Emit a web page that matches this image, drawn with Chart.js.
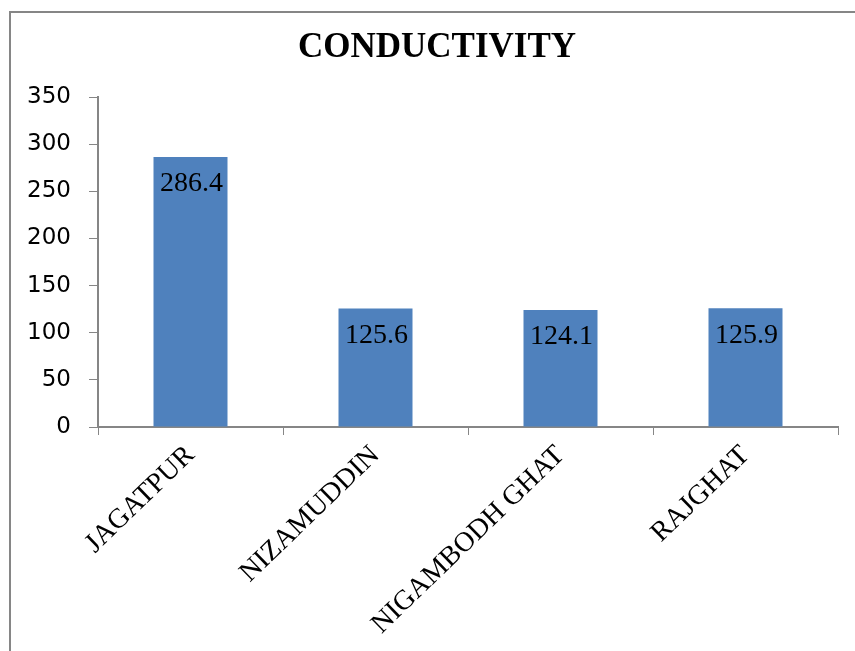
<!DOCTYPE html>
<html>
<head>
<meta charset="utf-8">
<script src="https://cdn.jsdelivr.net/npm/chart.js@4.4.1/dist/chart.umd.min.js"></script>
<style>
  html, body { margin: 0; padding: 0; background: #fff; }
  #wrap { position: relative; width: 855px; height: 651px; }
</style>
</head>
<body>
<div id="wrap"><canvas id="chart" width="855" height="651"></canvas></div>
<script>
    'use strict';

    const chartTitle = 'CONDUCTIVITY';
    const stations = ['JAGATPUR', 'NIZAMUDDIN', 'NIGAMBODH GHAT', 'RAJGHAT'];
    const conductivity = [286.4, 125.6, 124.1, 125.9];
    const yTicks = [0, 50, 100, 150, 200, 250, 300, 350];

    const BAR  = '#4F81BD';
    const AXIS = '#868686';

    /* ── frame, title + value labels ──────────────────────────────────── */

    const framePlugin = {
        id: 'frame',
        beforeDraw: function (chart) {
            const c = chart.ctx;
            c.save();
            c.fillStyle = '#fff';
            c.fillRect(0, 0, chart.width, chart.height);
            c.strokeStyle = AXIS;
            c.lineWidth = 2;
            c.strokeRect(10, 12, 1000, 1000);
            c.font = 'bold 35px "Liberation Serif", serif';
            c.fillStyle = '#000';
            c.textAlign = 'center';
            c.textBaseline = 'middle';
            c.fillText(chartTitle, 437, 48);
            c.restore();
        },
    };

    const valueLabels = {
        id: 'valueLabels',
        afterDatasetsDraw: function (chart) {
            const c = chart.ctx;
            const meta = chart.getDatasetMeta(0);
            c.save();
            c.font = '28px "Liberation Serif", serif';
            c.fillStyle = '#000';
            c.textAlign = 'center';
            c.textBaseline = 'middle';
            meta.data.forEach(function (bar, i) {
                c.fillText(String(conductivity[i]), bar.x + 1, bar.y + 27);
            });
            c.restore();
        },
    };

    new Chart(document.getElementById('chart'), {
        type: 'bar',
        data: {
            labels: stations,
            datasets: [{
                label: chartTitle,
                data: conductivity,
                backgroundColor: BAR,
                borderWidth: 0,
                barPercentage: 0.4,
                categoryPercentage: 1,
            }],
        },
        options: {
            responsive: false,
            animation: false,
            layout: { padding: { top: 97, right: 17, bottom: 0, left: 0 } },
            plugins: {
                legend: { display: false },
                tooltip: { enabled: false },
                title: { display: false },
            },
            scales: {
                x: {
                    grid: { drawOnChartArea: false, color: AXIS, tickLength: 8, offset: true },
                    border: { color: AXIS, width: 2 },
                    ticks: {
                        color: '#000',
                        font: { family: '"Liberation Serif", serif', size: 28 },
                        minRotation: 44,
                        maxRotation: 44,
                        padding: 4,
                        autoSkip: false,
                    },
                    afterFit: function (s) { s.height = 224; },
                },
                y: {
                    min: 0,
                    max: 350,
                    afterBuildTicks: function (s) {
                        s.ticks = yTicks.map(function (v) { return { value: v }; });
                    },
                    grid: { drawOnChartArea: false, color: AXIS, tickLength: 9 },
                    border: { color: AXIS, width: 2 },
                    ticks: {
                        color: '#000',
                        font: { family: '"DejaVu Sans", sans-serif', size: 23 },
                        padding: 18,
                    },
                    afterFit: function (s) { s.width = 98; },
                },
            },
        },
        plugins: [framePlugin, valueLabels],
    });
</script>
</body>
</html>
